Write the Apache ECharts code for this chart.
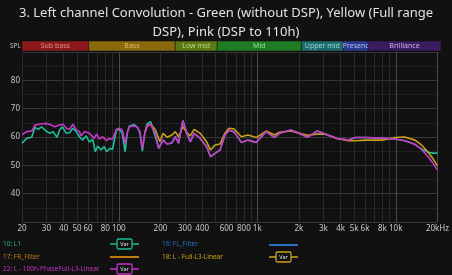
<!DOCTYPE html>
<html><head><meta charset="utf-8">
<script src="https://cdn.jsdelivr.net/npm/echarts@6/dist/echarts.min.js"></script>
<style>html,body{margin:0;padding:0;background:#111111;}#c{width:452px;height:275px;}</style>
</head><body><div id="c"></div>
<script>
const titleText = '3. Left channel Convolution - Green (without DSP), Yellow (Full range\nDSP), Pink (DSP to 110h)';

const greenFreq = [20,21.6,23.5,24.8,26.2,27.7,29.7,31.7,33.5,35.8,37.4,39.1,41.8,44.1,46.6,49.3,52,54.9,58.1,61.3,64.8,67.7,70.3,74.4,78.5,81.6,86.3,90.1,96.2,100.6,106,111,115,119,129,136,142,148,154,160,170,177,184,194,209,223,242,256,270,290,310,328,350,387,431,460,495,538,584,625,680,768,857,983,1159,1331,1445,1750,2010,2304,2718,3116,3778,4582,5110,6024,7934,9878,11648,13736,15334,17128,18600,20000];
const greenDb = [57.8,59.5,59.9,63.4,62.7,63.6,62.2,61.3,61.9,59.9,62.5,63.6,61.3,61.5,63.1,61.9,60.1,58.9,60.4,58.3,59.2,54.8,56.8,55.4,56.6,54.8,56.0,55.6,62.5,62.7,61.3,54.8,61.3,63.8,64.4,63.5,61.5,55.0,61.3,64.5,65.4,62.5,60.0,56.0,59.0,57.5,57.9,60.1,57.8,65.8,61.3,58.3,61.3,59.5,56.6,53.0,54.2,55.4,60.7,62.4,61.8,58.1,58.9,58.1,61.9,59.8,61.3,62.5,61.3,59.9,62.1,61.0,59.5,58.9,59.8,59.8,59.6,59.3,58.7,57.4,55.8,54.6,54.3,54.3];

const yellowFreq = [154,160,170,177,184,198,209,223,242,256,270,290,310,328,350,387,431,460,495,538,584,625,680,768,857,983,1159,1331,1445,1750,2010,2304,2718,3116,3778,4582,5110,6024,7934,9878,11648,13736,15334,17128,18600,20000];
const yellowDb = [61.3,63.9,64.4,63.5,62.5,58.3,61.3,59.9,60.7,61.9,60.1,63.6,61.6,60.4,62.7,61.3,58.3,55.4,57.2,57.5,61.3,63.1,62.8,60.1,60.7,59.8,62.1,60.7,61.7,62.1,61.3,60.6,61.0,61.0,59.5,58.7,58.7,58.9,58.9,59.8,60.0,58.9,57.2,54.6,52.3,49.8];

const pinkFreq = [20,21.6,23.5,24.8,26.9,30.1,32.6,34.4,37.4,39.5,41.8,44.1,46.6,49.3,52,53.5,56.5,61.3,63.1,66.6,69.2,72.3,76.4,81.6,85.3,90.1,96.2,100.6,106,111,115,119,129,136,142,148,154,160,170,177,184,194,209,223,242,256,270,290,310,328,350,387,431,460,495,538,584,625,680,768,857,983,1159,1331,1445,1750,2010,2304,2718,3116,3778,4582,5110,6024,7934,9878,11648,13736,15334,17128,18600,20000];
const pinkDb = [60.8,61.9,62.1,64.2,64.6,64.8,64.2,63.6,64.2,64.5,63.1,62.7,64.5,62.5,61.9,60.4,61.9,61.3,61.9,59.5,61.1,59.3,60.1,58.7,59.5,59.2,62.7,63.1,62.5,57.8,61.3,63.6,63.9,63.5,61.9,56.0,61.3,63.9,64.6,62.5,61.3,56.0,59.0,57.5,57.9,60.1,57.8,65.8,61.3,58.3,61.3,59.5,56.6,53.0,54.2,55.4,60.7,62.4,61.8,58.1,58.9,58.1,61.9,59.8,61.3,62.5,61.3,59.9,62.1,61.0,59.5,58.9,59.8,59.8,59.6,59.3,58.7,57.4,55.6,53.0,50.7,48.3];

const xLabelValues = [20,30,40,50,60,80,100,200,300,400,600,800,1000,2000,3000,4000,5000,6000,8000,10000,20000];
const xGridValues = [20,30,40,50,60,70,80,90,100,200,300,400,500,600,700,800,900,1000,2000,3000,4000,5000,6000,7000,8000,9000,10000,20000];
const xBrightValues = [100,1000,10000,20000];
const yMin = 30, yMax = 90, yStep = 10;

const bandNames = ['Sub bass','Bass','Low mid','Mid','Upper mid','Presenc','Brilliance'];
const bandStart = [20,60,250,500,2000,4000,6000];
const bandEnd = [60,250,500,2000,4000,6000,20000];
const bandFill = ['#8c1a1c','#8a6a0c','#5b7913','#1f7c24','#1d6a6d','#2c3a8e','#3b1c5e'];
const bandText = ['#e09090','#dcbc6a','#b8d88c','#9cdc9c','#9cd6d6','#b4bcf2','#c8b0e8'];

const legendNames = ['10: L1','16: FL_Filter','17: FR_Filter','18: L - Full-L3-Linear','22: L - 100h-PhaseFull-L3-Linear'];
const legendColors = ['#1fb896','#2a6fc4','#c07a12','#c9a21e','#c233c4'];
const legendKinds = ['var','line','line','var','var'];

const C_GREEN = '#1fbf9c', C_YELLOW = '#c9a01c', C_PINK = '#c838c8';

function pairs(f, d){ return f.map((v,i)=>[v,d[i]]); }
function fmtX(v){
  if (v === 20000) return '20kHz';
  if (v >= 1000) return (v/1000)+'k';
  return String(v);
}

const chart = echarts.init(document.getElementById('c'), null, {renderer:'canvas'});

const legendPos = [[3,244],[162,244],[3,257],[162,257],[3,269]];
const symPos = [[110,244],[269,245],[110,257],[269,257],[110,269]];
const graphics = [];
legendNames.forEach((name,i)=>{
  graphics.push({type:'text', x:legendPos[i][0], y:legendPos[i][1],
    style:{text:name, fill:legendColors[i], font:'6.5px "Noto Sans"', verticalAlign:'middle'}});
  const sx = symPos[i][0], sy = symPos[i][1];
  if (legendKinds[i] === 'line') {
    graphics.push({type:'line', shape:{x1:sx,y1:sy,x2:sx+29,y2:sy}, style:{stroke:legendColors[i], lineWidth:2}});
  } else {
    graphics.push({type:'line', shape:{x1:sx,y1:sy,x2:sx+29,y2:sy}, style:{stroke:legendColors[i], lineWidth:1.5}});
    graphics.push({type:'rect', shape:{x:sx+7,y:sy-5,width:15,height:10,r:1.5}, style:{fill:'#111111', stroke:legendColors[i], lineWidth:1.3}});
    graphics.push({type:'text', x:sx+14.5, y:sy, style:{text:'Var', fill:'#e0e0e0', font:'5.5px "Noto Sans"', align:'center', verticalAlign:'middle'}});
  }
});
graphics.push({type:'text', x:10, y:46, style:{text:'SPL', fill:'#c8c8c8', font:'6.5px "Noto Sans"', verticalAlign:'middle'}});

const gridColors = xGridValues.map(v => xBrightValues.includes(v) ? '#4a4a4a' : '#2a2a2a');

chart.setOption({
  backgroundColor:'#111111',
  animation:false,
  title:{text:titleText, left:'center', top:4, padding:0,
    textStyle:{color:'#e2e2e2', fontSize:13, fontWeight:'normal', fontFamily:'"Noto Sans"', lineHeight:19}},
  graphic: graphics,
  grid:[
    {left:22, right:11, top:52, bottom:53},
    {left:22, right:11, top:41, height:10}
  ],
  xAxis:[
    {type:'log', logBase:10, min:20, max:20000, gridIndex:0,
      axisLine:{show:false}, axisTick:{show:false, customValues:xGridValues},
      axisLabel:{customValues:xLabelValues, formatter:fmtX, color:'#c8c8c8', fontSize:8, margin:3, fontFamily:'"Noto Sans"', hideOverlap:false},
      splitLine:{show:true, lineStyle:{color:gridColors, width:1}}},
    {type:'log', logBase:10, min:20, max:20000, gridIndex:1, show:false}
  ],
  yAxis:[
    {type:'value', min:yMin, max:yMax, interval:yStep, gridIndex:0,
      axisLine:{show:false}, axisTick:{show:false},
      axisLabel:{color:'#c8c8c8', fontSize:8, margin:2, fontFamily:'"Noto Sans"',
        formatter:v => (v===yMin||v===yMax)?'':String(v)},
      splitLine:{lineStyle:{color:'#363636'}},
      minorTick:{show:false, splitNumber:2},
      minorSplitLine:{show:true, lineStyle:{color:'#1f1f1f'}}},
    {type:'value', min:0, max:1, gridIndex:1, show:false}
  ],
  series:[
    {type:'line', xAxisIndex:1, yAxisIndex:1, data:[], silent:true,
      markArea:{silent:true,
        data: bandNames.map((n,i)=>[
          {xAxis:bandStart[i], name:n, itemStyle:{color:bandFill[i], borderColor:'#111', borderWidth:0.5},
            label:{color:bandText[i]}},
          {xAxis:bandEnd[i]}
        ]),
        label:{show:true, position:'inside', fontSize:7, fontFamily:'"Noto Sans"'}
      }},
    {name:'10: L1', type:'line', data:pairs(greenFreq,greenDb), showSymbol:false, z:3,
      lineStyle:{color:C_GREEN, width:1.6}, itemStyle:{color:C_GREEN}},
    {name:'18: L - Full-L3-Linear', type:'line', data:pairs(yellowFreq,yellowDb), showSymbol:false, z:4,
      lineStyle:{color:C_YELLOW, width:1.6}, itemStyle:{color:C_YELLOW}},
    {name:'22: L - 100h-PhaseFull-L3-Linear', type:'line', data:pairs(pinkFreq,pinkDb), showSymbol:false, z:5,
      lineStyle:{color:C_PINK, width:1.6}, itemStyle:{color:C_PINK}}
  ]
});
</script></body></html>
